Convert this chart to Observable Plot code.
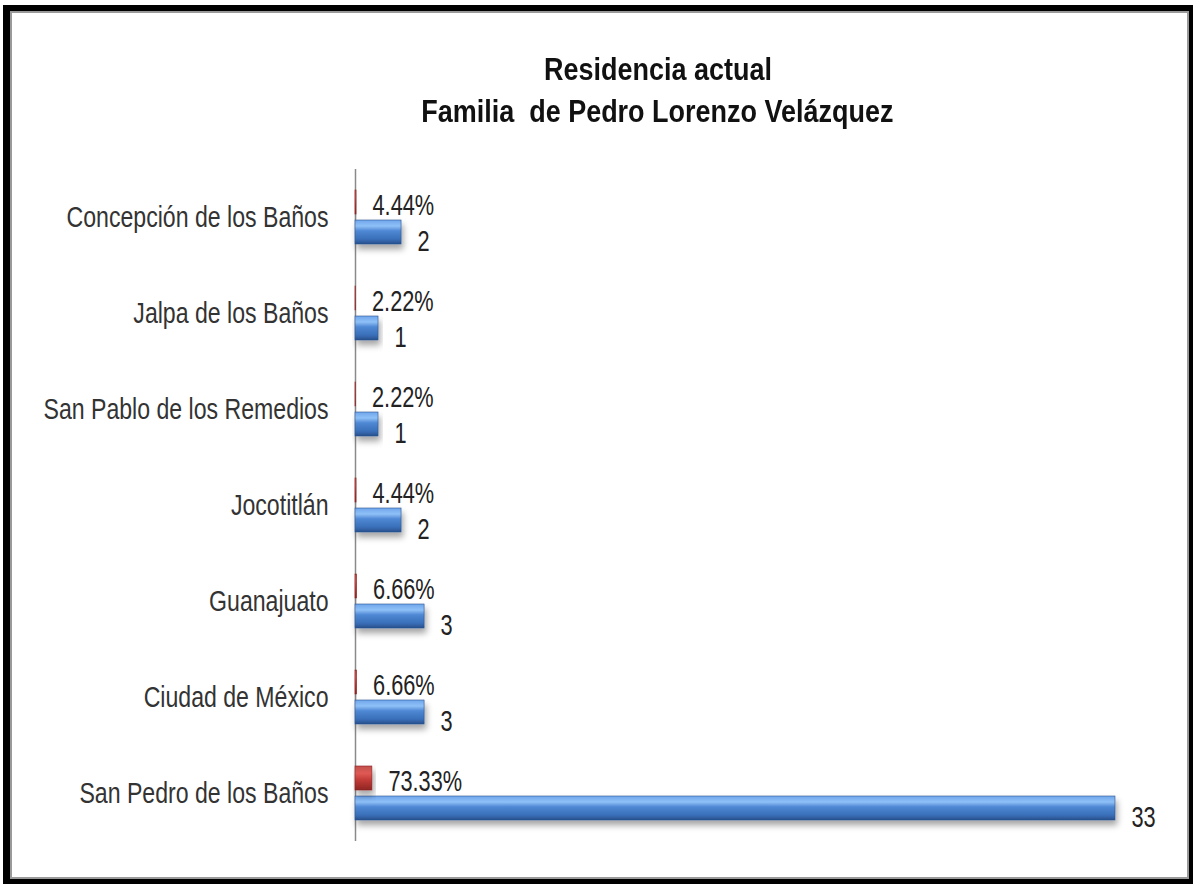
<!DOCTYPE html>
<html>
<head>
<meta charset="utf-8">
<script src="https://cdn.jsdelivr.net/npm/d3@7"></script>
<script src="https://cdn.jsdelivr.net/npm/@observablehq/plot@0.6"></script>
<style>
  html, body { margin: 0; padding: 0; background: #fff; }
  body { width: 1193px; height: 884px; position: relative; overflow: hidden; }
  #frame { position: absolute; left: 3px; top: 5px; width: 1190px; height: 879px; box-sizing: border-box;
           border-style: solid; border-color: #000; border-width: 6px 4px 5px 7px; }
  #inner { position: absolute; left: 0; top: 0; right: 0; bottom: 0; border: 2px solid #9a9a9a; }
  #title { position: absolute; left: 61px; width: 1193px; top: 49px; text-align: center;
           font-family: "Liberation Sans", Arial, sans-serif; font-weight: bold;
           font-size: 31px; line-height: 42px; color: #111; }
  #title span { display: inline-block; transform: scaleX(0.87); transform-origin: 50% 50%; white-space: pre; }
  #chart { position: absolute; left: 0; top: 150px; }
</style>
</head>
<body>
<div id="frame"><div id="inner"></div></div>
<div id="title"><span>Residencia actual</span><br><span>Familia  de Pedro Lorenzo Velázquez</span></div>
<div id="chart"></div>
<script>
const categories = ["Concepción de los Baños", "Jalpa de los Baños", "San Pablo de los Remedios",
                    "Jocotitlán", "Guanajuato", "Ciudad de México", "San Pedro de los Baños"];
const counts = [2, 1, 1, 2, 3, 3, 33];
const shares = [0.0444, 0.0222, 0.0222, 0.0444, 0.0666, 0.0666, 0.7333];
const shareLabels = ["4.44%", "2.22%", "2.22%", "4.44%", "6.66%", "6.66%", "73.33%"];
const series = ["pct", "count"];

const pctRows = categories.map((c, i) => ({cat: c, series: "pct", value: shares[i], label: shareLabels[i]}));
const countRows = categories.map((c, i) => ({cat: c, series: "count", value: counts[i], label: String(counts[i])}));

const chart = Plot.plot({
  width: 1193,
  height: 710,
  marginLeft: 355,
  marginRight: 78,
  marginTop: 18,
  marginBottom: 18,
  style: {fontFamily: "'Liberation Sans', Arial, sans-serif", fontSize: "30px", color: "#333", background: "transparent"},
  x: {domain: [0, 33], axis: null},
  y: {domain: series, axis: null, paddingInner: 0.2, paddingOuter: 0.65},
  fy: {domain: categories, padding: 0, label: null, tickSize: 0, tickPadding: 27},
  marks: [
    Plot.ruleX(categories, {x: () => 0, fy: d => d, stroke: "#8a8a8a", strokeWidth: 1.5}),
    Plot.barX(countRows, {x: "value", y: "series", fy: "cat", fill: "url(#blueGrad)", stroke: "#2a5590", strokeWidth: 0.6}),
    Plot.barX(pctRows, {x: "value", y: "series", fy: "cat", fill: "url(#redGrad)", stroke: "#8c2020", strokeWidth: 0.6}),
    Plot.text(pctRows, {x: "value", y: "series", fy: "cat", text: "label", textAnchor: "start", dx: 16, dy: 3, fill: "#222", fontSize: 29, className: "datalabel"}),
    Plot.text(countRows, {x: "value", y: "series", fy: "cat", text: "label", textAnchor: "start", dx: 16, dy: 9, fill: "#222", fontSize: 29, className: "datalabel"})
  ]
});

// gradients and shadow
const svg = d3.select(chart);
const defs = svg.insert("defs", ":first-child");
const bg = defs.append("linearGradient").attr("id", "blueGrad").attr("x1", 0).attr("y1", 0).attr("x2", 0).attr("y2", 1);
bg.append("stop").attr("offset", "0%").attr("stop-color", "#6fa6ec");
bg.append("stop").attr("offset", "25%").attr("stop-color", "#8fc0f7");
bg.append("stop").attr("offset", "45%").attr("stop-color", "#4f88d4");
bg.append("stop").attr("offset", "80%").attr("stop-color", "#3a6fb8");
bg.append("stop").attr("offset", "100%").attr("stop-color", "#274f8a");
const rg = defs.append("linearGradient").attr("id", "redGrad").attr("x1", 0).attr("y1", 0).attr("x2", 0).attr("y2", 1);
rg.append("stop").attr("offset", "0%").attr("stop-color", "#c0504d");
rg.append("stop").attr("offset", "30%").attr("stop-color", "#e05a55");
rg.append("stop").attr("offset", "60%").attr("stop-color", "#c03a36");
rg.append("stop").attr("offset", "100%").attr("stop-color", "#8e2622");
const f = defs.append("filter").attr("id", "shadow").attr("x", "-10%").attr("y", "-30%").attr("width", "130%").attr("height", "200%");
f.append("feDropShadow").attr("dx", 2).attr("dy", 5).attr("stdDeviation", 3).attr("flood-color", "#000").attr("flood-opacity", 0.35);
svg.selectAll("g[fill^='url']").attr("filter", "url(#shadow)");

// condense text horizontally (reference uses a narrow font)
svg.selectAll("text").each(function() {
  const isData = this.closest(".datalabel") !== null;
  const s = isData ? 0.75 : 0.77;
  const x = +this.getAttribute("x") || 0, y = +this.getAttribute("y") || 0;
  const t = this.getAttribute("transform") || "";
  this.setAttribute("transform", `${t} translate(${x},${y}) scale(${s},1) translate(${-x},${-y})`);
});

document.getElementById("chart").appendChild(chart);
</script>
</body>
</html>
